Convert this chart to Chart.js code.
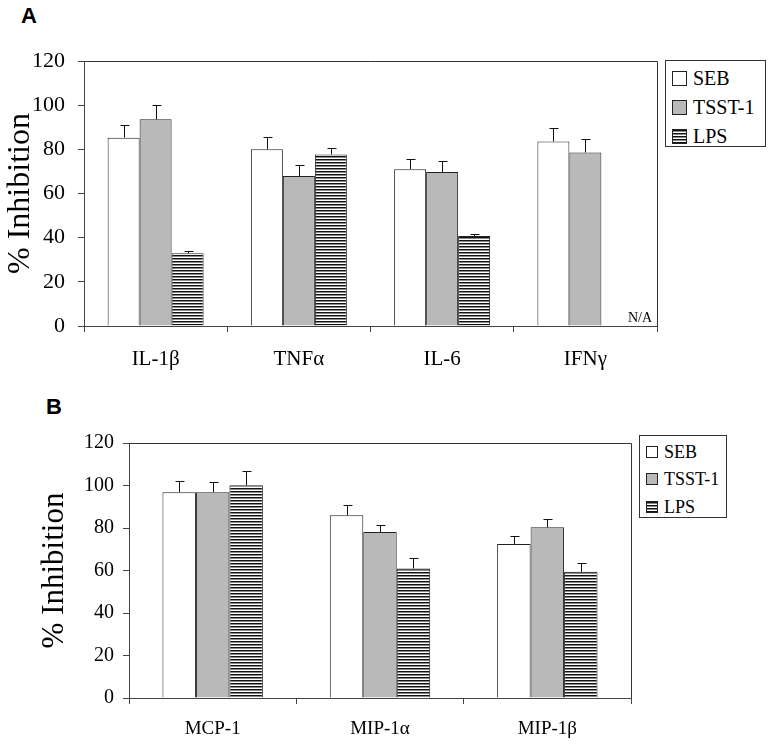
<!DOCTYPE html>
<html lang="en">
<head>
<meta charset="UTF-8">
<title>Cytokine inhibition</title>
<script src="https://cdn.jsdelivr.net/npm/chart.js@4/dist/chart.umd.min.js"></script>
<style>
  body { margin: 0; background: #fff; width: 772px; height: 744px; position: relative; overflow: hidden; font-family: "Liberation Serif", serif; }
  canvas { position: absolute; left: 0; }
  .tag { position: absolute; font: bold 22px "Liberation Sans", Arial, sans-serif; line-height: 22px; }
  .legend { position: absolute; border: 1px solid #333; box-sizing: border-box; background: #fff; }
  .item { position: absolute; white-space: nowrap; color: #000; font-family: "Liberation Serif", serif; }
  .sw { position: absolute; box-sizing: border-box; border: 1px solid #222; }
</style>
</head>
<body>

<div class="tag" style="left:21px; top:5px;">A</div>
<div class="tag" style="left:46px; top:396px;">B</div>

<canvas id="chartA" width="772" height="380" style="top:0"></canvas>
<canvas id="chartB" width="772" height="364" style="top:380px"></canvas>

<div class="legend" id="legA" style="left:665px; top:60px; width:101px; height:87px;"></div>
<div class="legend" id="legB" style="left:639px; top:435px; width:88px; height:83px;"></div>

<script>
    const seriesNames = ['SEB', 'TSST-1', 'LPS'];
    const yTitle = '% Inhibition';
    const yTicks = [0, 20, 40, 60, 80, 100, 120];

    // panel A
    const labelsA = ['IL-1\u03b2', 'TNF\u03b1', 'IL-6', 'IFN\u03b3'];
    const sebA = [85.3, 80, 71, 83.6];
    const sebErrA = [91.2, 85.7, 75.8, 89.5];
    const tsstA = [93.6, 67.9, 69.7, 78.6];
    const tsstErrA = [100.2, 73, 74.9, 84.5];
    const lpsA = [33, 77.7, 40.7, null];
    const lpsErrA = [34, 80.5, 41.6, null];
    const noteA = 'N/A';

    // panel B
    const labelsB = ['MCP-1', 'MIP-1\u03b1', 'MIP-1\u03b2'];
    const sebB = [96.8, 86, 72.5];
    const sebErrB = [102, 90.8, 76.1];
    const tsstB = [96.8, 78.1, 80.3];
    const tsstErrB = [101.5, 81.6, 84.1];
    const lpsB = [100.1, 61, 59.4];
    const lpsErrB = [107, 65.7, 63.5];

    const serif = 'Liberation Serif';
    const gray = '#b9b9b9';

    function stripes(ctx) {
        const c = document.createElement('canvas');
        c.width = 4; c.height = 3;
        const g = c.getContext('2d');
        g.fillStyle = '#fff';
        g.fillRect(0, 0, 4, 3);
        g.fillStyle = '#111';
        g.fillRect(0, 0, 4, 1);
        g.fillStyle = '#8a8a8a';
        g.fillRect(0, 1, 4, 1);
        return ctx.createPattern(c, 'repeat');
    }

    const errorBars = {
        id: 'errorBars',
        afterDatasetsDraw(chart) {
            const ctx = chart.ctx;
            const y = chart.scales.y;
            ctx.save();
            ctx.strokeStyle = '#111';
            ctx.lineWidth = 1;
            chart.data.datasets.forEach((ds, i) => {
                chart.getDatasetMeta(i).data.forEach((bar, j) => {
                    const e = ds.err[j];
                    if (e == null || ds.data[j] == null) return;
                    const x = Math.round(bar.x) + 0.5;
                    const top = Math.round(y.getPixelForValue(e)) + 0.5;
                    ctx.beginPath();
                    ctx.moveTo(x, bar.y);
                    ctx.lineTo(x, top);
                    ctx.moveTo(x - 4, top);
                    ctx.lineTo(x + 5, top);
                    ctx.stroke();
                });
            });
            ctx.restore();
        }
    };

    const frame = {
        id: 'frame',
        afterDraw(chart, args, opts) {
            const {left, top, right, bottom} = chart.chartArea;
            const ctx = chart.ctx;
            ctx.save();
            ctx.strokeStyle = '#333';
            ctx.lineWidth = 1;
            ctx.beginPath();
            ctx.moveTo(left, Math.round(top) + 0.5);
            ctx.lineTo(Math.round(right) + 0.5, Math.round(top) + 0.5);
            ctx.lineTo(Math.round(right) + 0.5, bottom);
            ctx.stroke();
            if (opts.note) {
                ctx.fillStyle = '#000';
                ctx.font = '14px "' + serif + '"';
                ctx.textAlign = 'right';
                ctx.textBaseline = 'alphabetic';
                ctx.fillText(opts.note, right - 5, bottom - 4);
            }
            ctx.restore();
        }
    };

    function makeChart(id, labels, seb, sebErr, tsst, tsstErr, lps, lpsErr, g) {
        const ctx = document.getElementById(id).getContext('2d');
        return new Chart(ctx, {
            type: 'bar',
            data: {
                labels: labels,
                datasets: [
                    {label: seriesNames[0], data: seb, err: sebErr, backgroundColor: '#fff'},
                    {label: seriesNames[1], data: tsst, err: tsstErr, backgroundColor: gray},
                    {label: seriesNames[2], data: lps, err: lpsErr, backgroundColor: stripes(ctx)}
                ]
            },
            options: {
                responsive: false,
                animation: false,
                devicePixelRatio: 1,
                layout: {padding: {left: 0, top: g.top, right: g.right, bottom: 0}},
                datasets: {
                    bar: {
                        borderColor: '#222', borderWidth: 1,
                        barPercentage: 1, categoryPercentage: g.cat
                    }
                },
                plugins: {
                    legend: {display: false},
                    tooltip: {enabled: false},
                    frame: {note: g.note}
                },
                scales: {
                    x: {
                        offset: true,
                        grid: {offset: true, drawOnChartArea: false, tickLength: 6, color: '#444'},
                        border: {color: '#444'},
                        ticks: {color: '#000', padding: g.xPad, font: {family: serif, size: g.xFont}},
                        afterFit: (s) => { s.height = g.xH; }
                    },
                    y: {
                        min: 0, max: 120,
                        afterBuildTicks: (s) => { s.ticks = yTicks.map(v => ({value: v})); },
                        grid: {drawOnChartArea: false, tickLength: 6, color: '#444'},
                        border: {color: '#444'},
                        ticks: {color: '#000', padding: g.yPad, font: {family: serif, size: g.yFont}},
                        title: {
                            display: true, text: yTitle, color: '#000',
                            font: {family: serif, size: g.tFont},
                            padding: {top: g.tPad, bottom: 0}
                        },
                        afterFit: (s) => { s.width = g.yW; }
                    }
                }
            },
            plugins: [errorBars, frame]
        });
    }

    makeChart('chartA', labelsA, sebA, sebErrA, tsstA, tsstErrA, lpsA, lpsErrA,
        {top: 61, right: 115, cat: 0.67, xH: 54, yW: 84, xPad: 15, yPad: 13, xFont: 21, yFont: 22, tFont: 32, tPad: 1, note: noteA});
    makeChart('chartB', labelsB, sebB, sebErrB, tsstB, tsstErrB, lpsB, lpsErrB,
        {top: 63, right: 141, cat: 0.6, xH: 46, yW: 129, xPad: 14, yPad: 9, xFont: 19, yFont: 20, tFont: 31, tPad: 36, note: null});

    // legends
    const swatches = [
        'background:#fff',
        'background:' + gray,
        'background:repeating-linear-gradient(to bottom, #111 0 1px, #8a8a8a 1px 2px, #fff 2px 3px)'
    ];
    function buildLegend(id, rows, sw, textX, font) {
        const box = document.getElementById(id);
        seriesNames.forEach((name, i) => {
            const s = document.createElement('div');
            s.className = 'sw';
            s.style.cssText = swatches[i] + ';left:6px;top:' + (rows[i] - sw / 2) + 'px;width:' + sw + 'px;height:' + sw + 'px;';
            box.appendChild(s);
            const t = document.createElement('div');
            t.className = 'item';
            t.textContent = name;
            t.style.cssText = 'left:' + textX + 'px;top:' + (rows[i] - font / 2) + 'px;font-size:' + font + 'px;line-height:' + font + 'px;';
            box.appendChild(t);
        });
    }
    buildLegend('legA', [17, 46, 75], 15, 27, 20);
    buildLegend('legB', [16, 43, 71], 12, 24, 18);
</script>

</body>
</html>
